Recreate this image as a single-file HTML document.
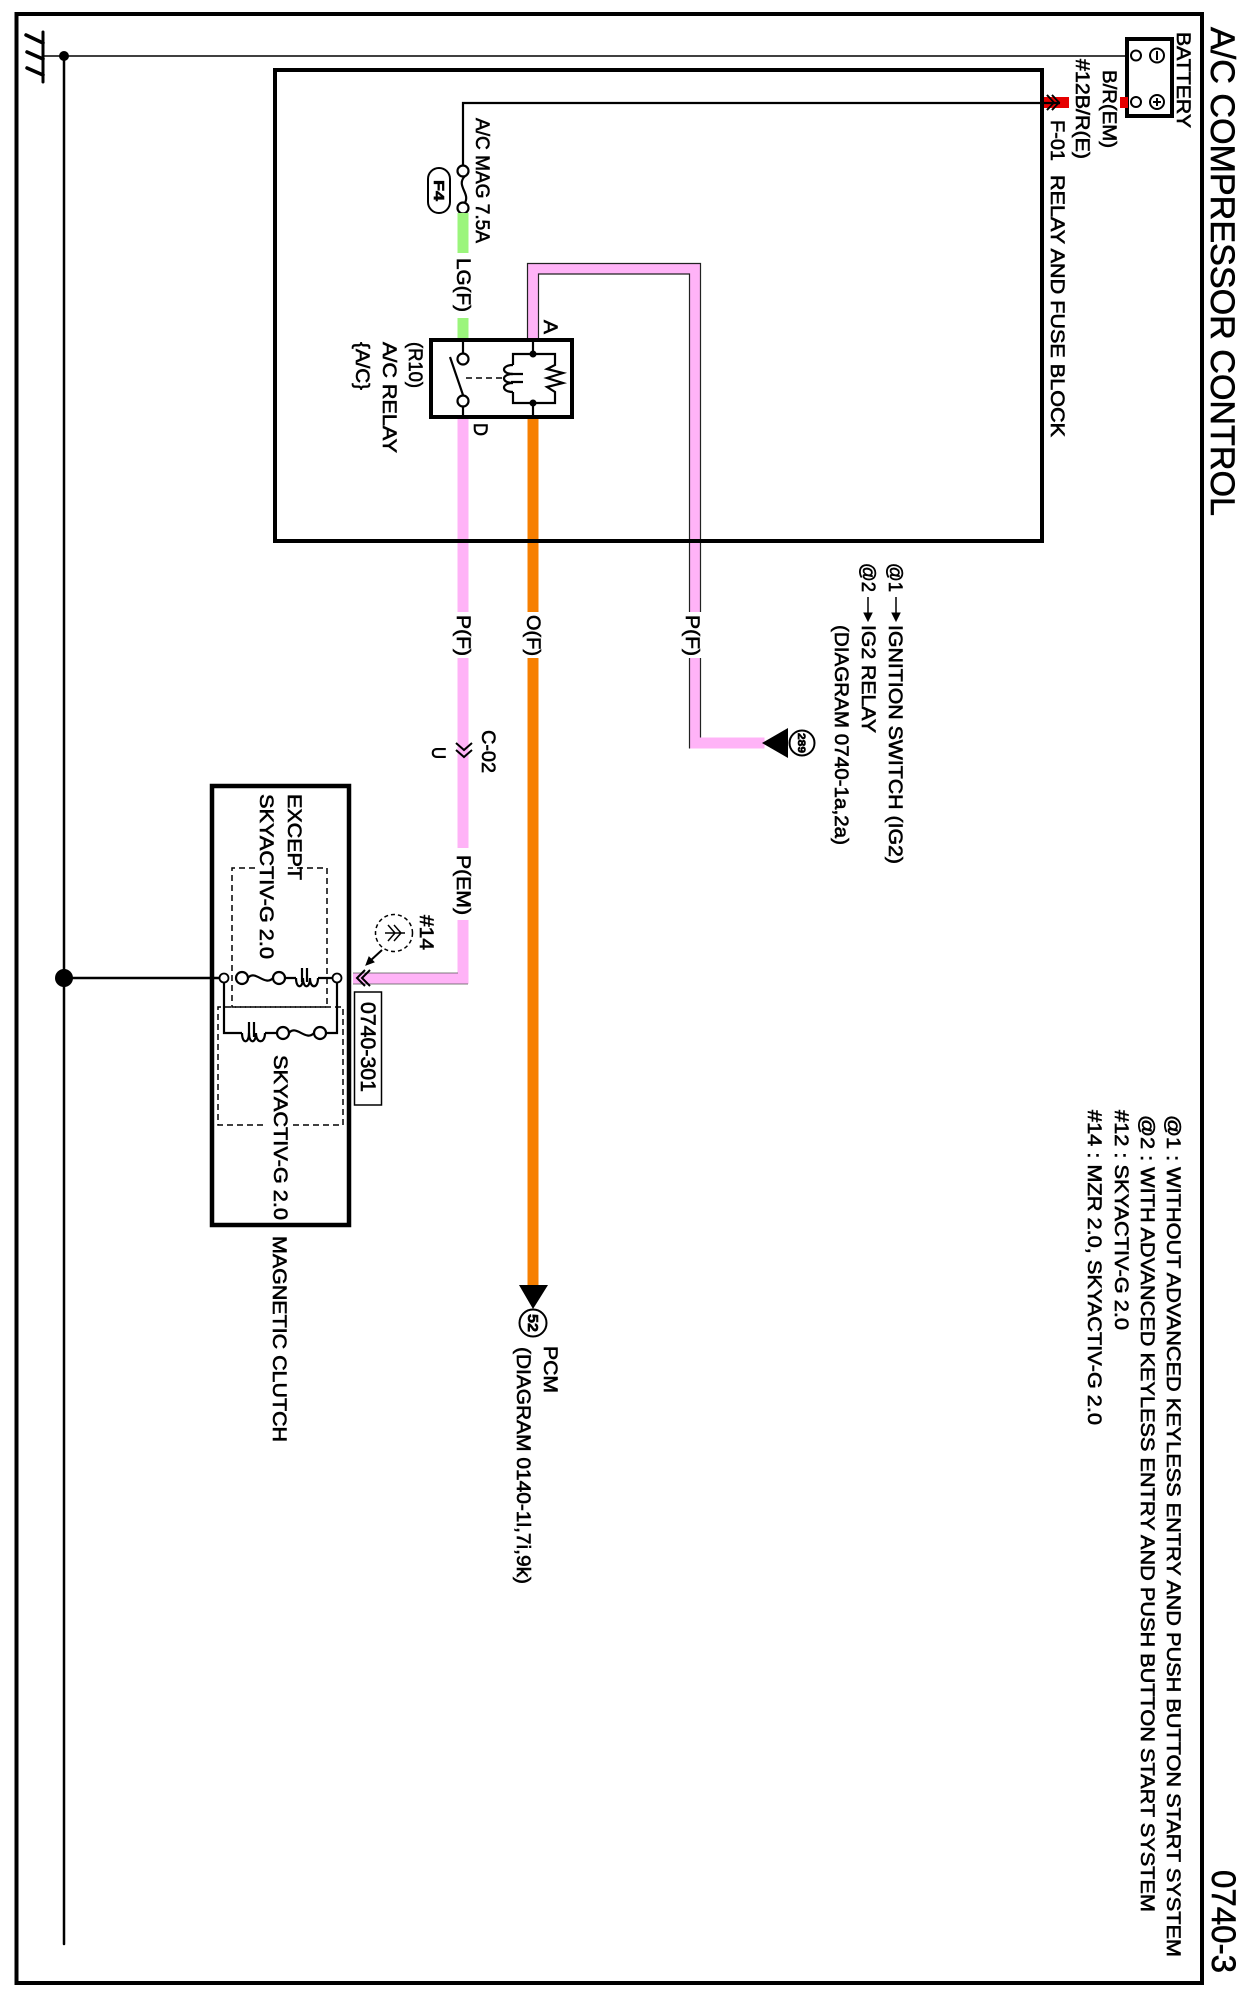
<!DOCTYPE html>
<html><head><meta charset="utf-8"><style>
html,body{margin:0;padding:0;background:#fff}
svg{display:block}
text{font-family:"Liberation Sans",sans-serif;fill:#000;stroke:#000;stroke-width:.6}
</style></head><body>
<svg width="1244" height="1998" viewBox="0 0 1244 1998" xmlns="http://www.w3.org/2000/svg">
<rect width="1244" height="1998" fill="#fff"/>
<!-- frames -->
<rect x="16.500" y="14" width="1185.500" height="1969" fill="none" stroke="#000" stroke-width="4"/>
<rect x="212" y="786" width="137" height="439" fill="none" stroke="#000" stroke-width="4.500"/>
<!-- ground -->
<g stroke="#000" fill="none" stroke-linecap="round">
<path d="M43 32V82" stroke-width="3"/>
<path d="M43 43L26 35M43 59L27 52M43 75L27 68" stroke-width="3.500"/>
<path d="M43 56H1130" stroke-width="1.500"/>
<path d="M64 56V1944" stroke-width="2.500"/>
</g>
<circle cx="64" cy="56" r="5" fill="#000"/>
<circle cx="64" cy="978" r="9" fill="#000"/>
<path d="M64 978H219" stroke="#000" stroke-width="2.500"/>
<!-- battery -->
<rect x="1127" y="39" width="45" height="77" fill="#fff" stroke="#000" stroke-width="4"/>
<circle cx="1136" cy="55.500" r="5" fill="#fff" stroke="#000" stroke-width="2"/>
<circle cx="1136" cy="102" r="5" fill="#fff" stroke="#000" stroke-width="2"/>
<circle cx="1157" cy="55.500" r="7" fill="#fff" stroke="#000" stroke-width="2"/>
<circle cx="1157" cy="102" r="7" fill="#fff" stroke="#000" stroke-width="2"/>
<path d="M1157 51V60M1153 102H1161M1157 98V106" stroke="#000" stroke-width="2"/>
<!-- red wires -->
<rect x="1120" y="97" width="8" height="11" fill="#e60000"/>
<rect x="1044" y="97" width="25" height="11" fill="#e60000"/>
<path d="M463 171V103H1060" fill="none" stroke="#000" stroke-width="2.200"/>
<path d="M1047 95L1054 102.500L1047 110M1052 95L1059 102.500L1052 110" fill="none" stroke="#000" stroke-width="1.800"/>
<!-- fuse -->
<path d="M465 176C455 186 472 194 464 204" fill="none" stroke="#000" stroke-width="2.200"/>
<circle cx="463" cy="171" r="5.500" fill="#fff" stroke="#000" stroke-width="2.200"/>
<circle cx="463" cy="208" r="5.500" fill="#fff" stroke="#000" stroke-width="2.200"/>
<rect x="428" y="168" width="22" height="45" rx="11" fill="#fff" stroke="#000" stroke-width="2"/>
<!-- green -->
<rect x="457.500" y="213" width="11" height="40" fill="#9bf57c"/>
<rect x="457.500" y="318" width="11" height="22" fill="#9bf57c"/>
<!-- pink wires -->
<g fill="#ffb3f7">
<rect x="457.500" y="417" width="11" height="195"/>
<rect x="457.500" y="658" width="11" height="190"/>
<rect x="457.500" y="920" width="11" height="64"/>
<rect x="353" y="973" width="115.500" height="11"/>
</g>
<path d="M353 973H458M353 984H468" fill="none" stroke="#555" stroke-width=".8"/>
<path d="M527.500 340V263.500H700.500V612H689.500V274H538.500V340Z" fill="#ffb3f7"/>
<rect x="689.500" y="658" width="11" height="90.500" fill="#ffb3f7"/>
<rect x="689.500" y="737.500" width="75" height="11" fill="#ffb3f7"/>
<path d="M527.500 340V263.500H700.500V612M700.500 658V737.500M538.500 340V274H689.500V612M689.500 658V748.500" fill="none" stroke="#222" stroke-width="1.200"/>
<!-- orange -->
<rect x="527.500" y="417" width="11" height="195" fill="#f77f00"/>
<rect x="527.500" y="658" width="11" height="628" fill="#f77f00"/>
<!-- block frame drawn over wires -->
<rect x="275" y="70" width="767" height="471" fill="none" stroke="#000" stroke-width="4"/>
<rect x="1044" y="97" width="14" height="11" fill="#e60000"/>
<path d="M1040 103H1060" stroke="#000" stroke-width="2.200"/>
<path d="M1047 95L1054 102.500L1047 110M1052 95L1059 102.500L1052 110" fill="none" stroke="#000" stroke-width="1.800"/>
<!-- arrow ends -->
<path d="M519 1285H548L533 1309Z" fill="#000"/>
<circle cx="533" cy="1323" r="13.500" fill="#fff" stroke="#000" stroke-width="2"/>
<path d="M762 743L788 728V758Z" fill="#000"/>
<circle cx="802" cy="743" r="12.500" fill="#fff" stroke="#000" stroke-width="2"/>
<!-- relay -->
<rect x="431" y="340" width="141" height="77" fill="#fff" stroke="#000" stroke-width="4"/>
<g fill="none" stroke="#000" stroke-width="2.200">
<path d="M463 340V353M463 407V417"/>
<path d="M450 357L463 395"/>
<path d="M466 378H502" stroke-dasharray="6 4" stroke-width="1.600"/>
<path d="M533 340V354M533 403V417"/>
<path d="M513 365V354H555V365L547 369 563 373 547 378 563 383 547 387 555 392V403H513V392"/>
<path d="M513 365C501 365 501 374 513 374C501 374 501 383 513 383C501 383 501 392 513 392"/>
<path d="M511 374H523M511 382H523"/>
</g>
<circle cx="463" cy="359" r="5.500" fill="#fff" stroke="#000" stroke-width="2.200"/>
<circle cx="463" cy="401" r="5.500" fill="#fff" stroke="#000" stroke-width="2.200"/>
<circle cx="533" cy="354" r="3.500" fill="#000"/>
<circle cx="533" cy="403" r="3.500" fill="#000"/>
<!-- C-02 chevrons -->
<path d="M456 743L464 750L472 743M456 750L464 757L472 750" fill="none" stroke="#000" stroke-width="2"/>
<!-- clutch dashed boxes -->
<g fill="none" stroke="#000" stroke-width="1.500" stroke-dasharray="6 4">
<path d="M255 868H232V1007H327V868H288"/>
<path d="M263 1125H218V1007H343V1125H293"/>
</g>
<!-- clutch circuit -->
<g fill="none" stroke="#000" stroke-width="2.200">
<path d="M224 978V1033H242M265 1033H277M289 1033C296 1024 306 1042 314 1033M326 1033H337V978"/>
<path d="M248 978C255 969 265 987 273 978M285 978H296M318 978H332"/>
<path d="M296 978C296 989 303 989 303 978C303 989 310 989 310 978C310 989 318 989 318 978"/>
<path d="M302 968V982M307 968V982"/>
<path d="M242 1033C242 1044 249 1044 249 1033C249 1044 256 1044 256 1033C256 1044 265 1044 265 1033"/>
<path d="M249 1022V1037M254 1022V1037"/>
</g>
<circle cx="224" cy="978" r="4.500" fill="#fff" stroke="#000" stroke-width="1.800"/>
<circle cx="337" cy="978" r="4.500" fill="#fff" stroke="#000" stroke-width="1.800"/>
<circle cx="242" cy="978" r="6" fill="#fff" stroke="#000" stroke-width="2.200"/>
<circle cx="279" cy="978" r="6" fill="#fff" stroke="#000" stroke-width="2.200"/>
<circle cx="283" cy="1033" r="6" fill="#fff" stroke="#000" stroke-width="2.200"/>
<circle cx="320" cy="1033" r="6" fill="#fff" stroke="#000" stroke-width="2.200"/>
<!-- connector 0740-301 -->
<path d="M365 970L357 978L365 986M370 970L362 978L370 986" fill="none" stroke="#000" stroke-width="2"/>
<rect x="354.500" y="992" width="27" height="113" fill="#fff" stroke="#000" stroke-width="1.500"/>
<!-- #14 detail -->
<circle cx="394" cy="933" r="18.500" fill="#fff" stroke="#000" stroke-width="1.500" stroke-dasharray="4 3"/>
<path d="M385 933H405M394 925L401 933L394 941M388 925L395 933L388 941" fill="none" stroke="#000" stroke-width="1.500"/>
<path d="M382 950L370 961" stroke="#000" stroke-width="2"/>
<path d="M366 965L374 962L369 957Z" fill="#000" stroke="#000"/>
<!-- small arrows -->
<g fill="#000" stroke="#000">
<path d="M896 597V614" stroke-width="1.500"/><path d="M892 613H900L896 621Z"/>
<path d="M868 597V614" stroke-width="1.500"/><path d="M864 613H872L868 621Z"/>
</g>
<!-- text -->
<text transform="translate(1211,27) rotate(90)" font-size="34" textLength="489" lengthAdjust="spacingAndGlyphs">A/C COMPRESSOR CONTROL</text>
<text transform="translate(1212,1870) rotate(90)" font-size="34" textLength="103" lengthAdjust="spacingAndGlyphs">0740-3</text>
<text transform="translate(1177,32) rotate(90)" font-size="19" textLength="96" lengthAdjust="spacingAndGlyphs">BATTERY</text>
<text transform="translate(1103,70) rotate(90)" font-size="19" textLength="78" lengthAdjust="spacingAndGlyphs">B/R(EM)</text>
<text transform="translate(1076,59) rotate(90)" font-size="19" textLength="100" lengthAdjust="spacingAndGlyphs">#12B/R(E)</text>
<text transform="translate(1051,120) rotate(90)" font-size="19" textLength="41" lengthAdjust="spacingAndGlyphs">F-01</text>
<text transform="translate(1051,175) rotate(90)" font-size="19" textLength="262" lengthAdjust="spacingAndGlyphs">RELAY AND FUSE BLOCK</text>
<text transform="translate(476,118) rotate(90)" font-size="19" textLength="125" lengthAdjust="spacingAndGlyphs">A/C MAG 7.5A</text>
<text transform="translate(434,180) rotate(90)" font-size="15" font-weight="bold" textLength="21" lengthAdjust="spacingAndGlyphs">F4</text>
<text transform="translate(457,258) rotate(90)" font-size="19" textLength="54" lengthAdjust="spacingAndGlyphs">LG(F)</text>
<text transform="translate(544,320) rotate(90)" font-size="19" textLength="14" lengthAdjust="spacingAndGlyphs">A</text>
<text transform="translate(474,423) rotate(90)" font-size="19" textLength="13" lengthAdjust="spacingAndGlyphs">D</text>
<text transform="translate(409,342) rotate(90)" font-size="19" textLength="46" lengthAdjust="spacingAndGlyphs">(R10)</text>
<text transform="translate(383,342) rotate(90)" font-size="19" textLength="111" lengthAdjust="spacingAndGlyphs">A/C RELAY</text>
<text transform="translate(356,342) rotate(90)" font-size="19" textLength="48" lengthAdjust="spacingAndGlyphs">{A/C}</text>
<text transform="translate(457,615) rotate(90)" font-size="19" textLength="41" lengthAdjust="spacingAndGlyphs">P(F)</text>
<text transform="translate(527,615) rotate(90)" font-size="19" textLength="41" lengthAdjust="spacingAndGlyphs">O(F)</text>
<text transform="translate(686,615) rotate(90)" font-size="19" textLength="41" lengthAdjust="spacingAndGlyphs">P(F)</text>
<text transform="translate(482,730) rotate(90)" font-size="19" textLength="43" lengthAdjust="spacingAndGlyphs">C-02</text>
<text transform="translate(432,747) rotate(90)" font-size="19" textLength="12" lengthAdjust="spacingAndGlyphs">U</text>
<text transform="translate(457,855) rotate(90)" font-size="19" textLength="60" lengthAdjust="spacingAndGlyphs">P(EM)</text>
<text transform="translate(420,915) rotate(90)" font-size="19" textLength="35" lengthAdjust="spacingAndGlyphs">#14</text>
<text transform="translate(361,1002) rotate(90)" font-size="21" textLength="90" lengthAdjust="spacingAndGlyphs">0740-301</text>
<text transform="translate(288,794) rotate(90)" font-size="19" textLength="86" lengthAdjust="spacingAndGlyphs">EXCEPT</text>
<text transform="translate(260,794) rotate(90)" font-size="19" textLength="165" lengthAdjust="spacingAndGlyphs">SKYACTIV-G 2.0</text>
<text transform="translate(274,1055) rotate(90)" font-size="19" textLength="165" lengthAdjust="spacingAndGlyphs">SKYACTIV-G 2.0</text>
<text transform="translate(273,1236) rotate(90)" font-size="19" textLength="206" lengthAdjust="spacingAndGlyphs">MAGNETIC CLUTCH</text>
<text transform="translate(544,1346) rotate(90)" font-size="19" textLength="47" lengthAdjust="spacingAndGlyphs">PCM</text>
<text transform="translate(517,1347) rotate(90)" font-size="19" textLength="237" lengthAdjust="spacingAndGlyphs">(DIAGRAM 0140-1l,7i,9k)</text>
<text transform="translate(528,1314) rotate(90)" font-size="15" font-weight="bold" textLength="18" lengthAdjust="spacingAndGlyphs">52</text>
<text transform="translate(798,733) rotate(90)" font-size="11" font-weight="bold" textLength="20" lengthAdjust="spacingAndGlyphs">289</text>
<text transform="translate(889,563) rotate(90)" font-size="19" textLength="29" lengthAdjust="spacingAndGlyphs">@1</text>
<text transform="translate(889,625) rotate(90)" font-size="19" textLength="239" lengthAdjust="spacingAndGlyphs">IGNITION SWITCH  (IG2)</text>
<text transform="translate(862,563) rotate(90)" font-size="19" textLength="29" lengthAdjust="spacingAndGlyphs">@2</text>
<text transform="translate(862,625) rotate(90)" font-size="19" textLength="108" lengthAdjust="spacingAndGlyphs">IG2 RELAY</text>
<text transform="translate(835,625) rotate(90)" font-size="19" textLength="220" lengthAdjust="spacingAndGlyphs">(DIAGRAM 0740-1a,2a)</text>
<text transform="translate(1167,1115) rotate(90)" font-size="19" textLength="842" lengthAdjust="spacingAndGlyphs">@1 : WITHOUT ADVANCED KEYLESS ENTRY AND PUSH BUTTON START SYSTEM</text>
<text transform="translate(1141,1115) rotate(90)" font-size="19" textLength="797" lengthAdjust="spacingAndGlyphs">@2 : WITH ADVANCED KEYLESS ENTRY AND PUSH BUTTON START SYSTEM</text>
<text transform="translate(1115,1110) rotate(90)" font-size="19" textLength="220" lengthAdjust="spacingAndGlyphs">#12 : SKYACTIV-G 2.0</text>
<text transform="translate(1088,1110) rotate(90)" font-size="19" textLength="315" lengthAdjust="spacingAndGlyphs">#14 : MZR 2.0, SKYACTIV-G 2.0</text>
</svg>
</body></html>
